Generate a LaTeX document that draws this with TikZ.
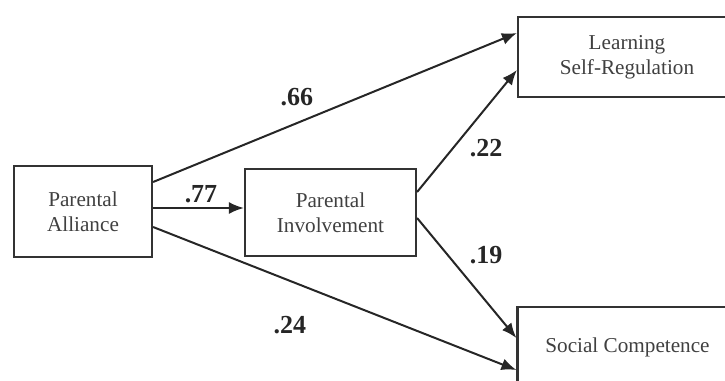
\documentclass[tikz,border=0pt]{standalone}
\usepackage{fontspec}
\setmainfont{Liberation Serif}
\usetikzlibrary{calc,arrows.meta}

\begin{document}
\begin{tikzpicture}[x=0.5pt,y=-0.5pt]
\tikzset{mainline/.style={line width=1pt,color=black!85}};
\tikzset{varbox/.style={draw=black!80,line width=1.1pt,align=center,inner sep=0pt,font=\fontsize{10.6}{12.6}\selectfont,text=black!75}};
\tikzset{pathlab/.style={font=\fontsize{13}{15}\selectfont\bfseries,text=black!85}};
\tikzset{patharrow/.style={mainline,-{Latex[length=7.5pt,width=6pt]}}};

\useasboundingbox (0,0) rectangle (725,381);
\clip (0,0) rectangle (725,381);

\coordinate (PAc) at (83,211.5);
\coordinate (PIc) at (330.5,212.5);
\coordinate (LSRc) at (627,57);
\coordinate (SCc) at (627.5,347);

\node [varbox, minimum width=69pt, minimum height=45.5pt] (alliance) at (PAc) {Parental\\Alliance};
\node [varbox, minimum width=85.5pt, minimum height=43.5pt] (involvement) at (PIc) {Parental\\Involvement};
\node [varbox, minimum width=109pt, minimum height=40pt] (selfreg) at (LSRc) {Learning\\Self-Regulation};
\node [varbox, minimum width=110pt, minimum height=40pt] (socialcomp) at (SCc) {Social Competence};

\draw [patharrow] ($ (alliance.east)+(0,-29.5) $) -- ($ (selfreg.west)+(0,-24) $);
\draw [patharrow] ($ (alliance.east)+(0,-3.5) $) -- ($ (involvement.west)+(0,-4.5) $);
\draw [patharrow] ($ (alliance.east)+(0,15.5) $) -- ($ (socialcomp.west)+(0,23) $);
\draw [patharrow] ($ (involvement.east)+(0,-20.5) $) -- ($ (selfreg.west)+(0,13) $);
\draw [patharrow] ($ (involvement.east)+(0,5.5) $) -- ($ (socialcomp.west)+(0,-9) $);

\node [pathlab] (b66) at (297,97) {.66};
\node [pathlab] (b77) at (201,194) {.77};
\node [pathlab] (b22) at (486,148) {.22};
\node [pathlab] (b19) at (486,255) {.19};
\node [pathlab] (b24) at (290,325) {.24};
\end{tikzpicture}
\end{document}
